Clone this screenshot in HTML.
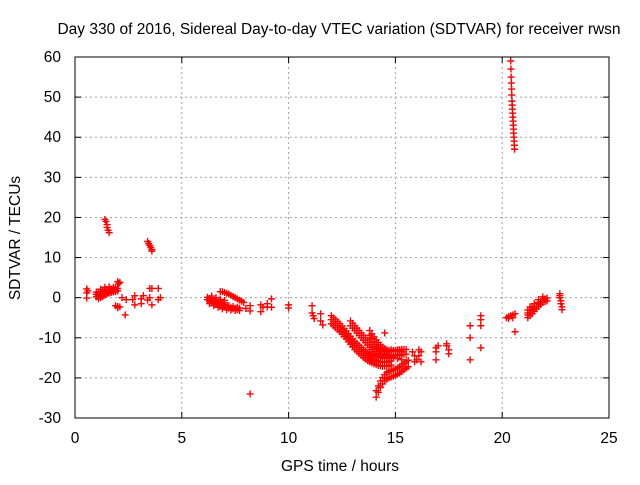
<!DOCTYPE html>
<html><head><meta charset="utf-8"><style>
body{margin:0;background:#fff}
svg text{font-family:"Liberation Sans",sans-serif;font-size:15.5px;fill:#000}
</style></head><body>
<svg id="chart" width="640" height="480">
<text x="339" y="34" text-anchor="middle" font-size="15.5">Day 330 of 2016, Sidereal Day-to-day VTEC variation (SDTVAR) for receiver rwsn</text>
<text x="340" y="471" text-anchor="middle">GPS time / hours</text>
<text transform="translate(20,238) rotate(-90)" text-anchor="middle">SDTVAR / TECUs</text>
<g id="grid"></g><g id="axes"></g><g id="marks"></g>
<rect x="75" y="57" width="534" height="361" fill="none" stroke="#000"/>
</svg>
<script>
const xTicks=[0,5,10,15,20,25];
const yTicks=[-30,-20,-10,0,10,20,30,40,50,60];
const t1H=[0.55,0.55,0.55,0.6], t1V=[2.2,1.2,-0.1,1.7];
const blob1H=[1.0,1.1,1.2,1.3,1.4,1.5,1.6,1.7,1.8,1.9,2.0,1.1,1.2,1.3,1.4,1.5,1.6,1.7,1.8,1.9,1.0,1.2,1.4,1.6,1.8];
const blob1V=[0.2,0.5,0.8,1,1.2,1.4,1.5,1.6,1.7,1.8,1.7,-0.3,0,0.3,0.6,0.9,1.1,1.3,1.4,1.5,0.8,1.5,2,2.1,2];
const t3H=[1.4,1.45,1.5,1.5,1.55,1.6], t3V=[19.5,19,18.2,17.5,16.8,16.2];
const t4H=[3.4,3.45,3.5,3.55,3.6,3.6], t4V=[14,13.5,13,12.5,12,11.6];
const t5H=[2.0,2.1,2.05], t5V=[4,3.8,3.5];
const t6H=[1.9,2.0,2.1,2.0], t6V=[-2,-2.2,-2.3,-2.5];
const t8H=[2.35,2.4,2.7,2.8,2.8,3.1,3.1,3.2,3.4,3.5,3.5,3.6,3.6,3.9,4.0,3.9,2.2];
const t8V=[-4.3,-0.5,-0.5,-1.8,0.5,-0.3,-1.5,0.5,-0.6,2.3,0,-1.8,2.3,-0.5,0,2.3,0];
const blob9H=[6.2,6.3,6.4,6.5,6.6,6.7,6.8,6.9,7.0,7.2,7.4,7.6,6.3,6.5,6.7,6.9,7.1,7.3,7.5,7.7,6.4,6.6,6.8,7.0];
const blob9V=[-0.5,-0.8,-1.2,-1.4,-1.6,-1.8,-2,-2.2,-2.4,-2.6,-2.8,-3,-1.5,-2,-2.4,-2.8,-3,-3.1,-3.2,-3.2,-0.2,-0.6,-1,-1.3];
const arc10H=[6.8,6.9,7.0,7.1,7.2,7.3,7.4,7.5,7.6,7.7,7.8,7.9], arc10V=[1.5,1.5,1.3,1.1,0.9,0.6,0.3,0,-0.3,-0.6,-0.9,-1.2];
const t11H=[8.0,8.2,8.2,8.7,8.7,8.8,9.0,9.2,9.2,9.0,10.0,10.0,8.2], t11V=[-2.7,-2,-3.3,-1.8,-3.5,-2.4,-2.3,-0.3,-2.4,-1.5,-1.8,-2.6,-24];
const t14H=[11.1,11.1,11.15,11.2,11.5,11.5,11.6,14.5], t14V=[-2,-3.8,-4.5,-5.2,-4,-5.8,-6.8,-8.8];
const arc15H=[12.0,12.1,12.2,12.3,12.4,12.5,12.6,12.7,12.8,12.9,13.0,13.1,13.2,13.3,13.4,13.5,13.6,13.7,13.8,13.9,14.0,14.1,14.2,14.3,14.4,14.5,14.6,14.7,14.8];
const arc15V=[-5.5,-6,-6.5,-7,-7.5,-8.1,-8.7,-9.3,-10,-10.6,-11.3,-11.9,-12.4,-12.9,-13.4,-13.9,-14.3,-14.7,-15,-15.3,-15.5,-15.7,-15.9,-16,-16.1,-16.1,-16.1,-16,-15.8];
const arc16H=[12.9,13.0,13.1,13.2,13.3,13.4,13.5,13.6,13.7,13.8,13.9,14.0,14.1,14.2,14.3,14.4,14.5,14.6,14.7];
const arc16V=[-6.4,-7,-7.6,-8.2,-8.8,-9.4,-10,-10.6,-11.2,-11.8,-12.3,-12.8,-13.2,-13.5,-13.8,-14,-14.1,-14.1,-14];
const arc17H=[13.8,13.9,14.0,14.1,14.2,14.3,14.4,14.5,14.6,14.7,14.8,14.9,15.0,15.1,15.2,15.3,15.4,15.5];
const arc17V=[-8.8,-9.6,-10.4,-11.1,-11.8,-12.4,-12.9,-13.3,-13.6,-13.8,-13.9,-13.9,-13.8,-13.7,-13.6,-13.5,-13.5,-13.5];
const arc18H=[14.1,14.2,14.3,14.4,14.5,14.6,14.7,14.8,14.9,15.0,15.1,15.2,15.3,15.4,15.5,15.6];
const arc18V=[-24,-22.8,-21.6,-20.7,-20,-19.5,-19.2,-19,-18.8,-18.6,-18.3,-18,-17.6,-17.2,-16.8,-16.4];
const blob15H=[14.8,14.9,15.0,15.1,15.2,15.3,14.9,15.1,15.3,15.0,15.2], blob15V=[-13,-13.2,-13.1,-13,-13.2,-13.5,-15,-15.2,-15.5,-14.3,-14.4];
const t20H=[15.8,15.9,16.0,16.1,16.1,16.2,15.9,16.2,16.9,16.9,16.9,17.0,17.4,17.5,17.5,17.4];
const t20V=[-13.5,-14.5,-15.5,-13,-14.5,-13.5,-16,-16,-12.5,-13.5,-15.5,-12,-12,-13,-14,-11.5];
const t22H=[18.5,18.5,18.5,19.0,19.0,19.0,19.0,20.6], t22V=[-7,-10,-15.5,-4.5,-5.5,-7,-12.5,-8.5];
const blob23H=[20.2,20.3,20.4,20.5,20.6,20.3,20.5], blob23V=[-5,-4.7,-4.5,-4.3,-4,-5.2,-5];
const vert25H=[20.4,20.41,20.42,20.43,20.44,20.45,20.46,20.47,20.48,20.49,20.5,20.51,20.52,20.53,20.54,20.55,20.56,20.57,20.58];
const vert25V=[59,57,55,53.5,52,50.5,49,48,47,46,45,44,43,42,41,40,39,38,37];
const blob26H=[21.2,21.3,21.4,21.5,21.6,21.7,21.8,21.9,22.0,22.1,21.3,21.5,21.7,21.9,21.2,21.4];
const blob26V=[-5,-4.5,-4,-3.4,-2.8,-2.2,-1.7,-1.2,-1,-0.8,-3,-2.2,-1.2,-0.5,-3.8,-3];
const t27H=[22.7,22.7,22.75,22.75,22.8,22.8,22.7], t27V=[1,0,-0.8,-1.5,-2.3,-3,0.5];

const X=h=>75+h*(534/25), Y=v=>418-(v+30)*(361/90);
const NS='http://www.w3.org/2000/svg';
const grid=document.getElementById('grid'), axes=document.getElementById('axes'), marks=document.getElementById('marks');
function mk(tag,attrs,parent){const e=document.createElementNS(NS,tag);for(const k in attrs)e.setAttribute(k,attrs[k]);parent.appendChild(e);return e;}
xTicks.forEach(t=>{
  const x=X(t);
  if(t>0&&t<25){const g=mk('line',{x1:x,x2:x,y1:57,y2:418,stroke:'#a0a0a0','stroke-dasharray':'2,3'},grid);
  
  }
  mk('line',{x1:x,x2:x,y1:418,y2:412,stroke:'#000'},axes);
  mk('line',{x1:x,x2:x,y1:57,y2:63,stroke:'#000'},axes);
  const l=mk('text',{x:x,y:443,'text-anchor':'middle'},axes);l.textContent=t;
  
  
});
yTicks.forEach(t=>{
  const y=Y(t);
  if(t>-30&&t<60){const g=mk('line',{x1:75,x2:609,y1:y,y2:y,stroke:'#a0a0a0','stroke-dasharray':'2,3'},grid);
  
  }
  mk('line',{x1:75,x2:81,y1:y,y2:y,stroke:'#000'},axes);
  mk('line',{x1:609,x2:603,y1:y,y2:y,stroke:'#000'},axes);
  const l=mk('text',{x:61,y:y+5,'text-anchor':'end'},axes);l.textContent=t;
  
  
});
function plot(H,V,name,offs){
  offs=offs||[0];
  H.forEach((h,i)=>offs.forEach(o=>{
    const x=X(h),y=Y(V[i]+o);
    const p=mk('path',{d:`M${x-3.5},${y}h7M${x},${y-3.5}v7`,stroke:'#f00','stroke-width':1.4},marks);
    
    
  }));
}
plot(t1H,t1V,'track1');plot(blob1H,blob1V,'blob1',[0,0.6]);plot(t3H,t3V,'track3');plot(t4H,t4V,'track4');
plot(t5H,t5V,'track5');plot(t6H,t6V,'track6');plot(t8H,t8V,'track8');plot(blob9H,blob9V,'blob9',[0,0.6]);
plot(arc10H,arc10V,'arc10');plot(t11H,t11V,'track11');plot(t14H,t14V,'track14');
plot(arc15H,arc15V,'arc15',[-1,0,1]);plot(arc16H,arc16V,'arc16',[-0.6,0.6]);plot(arc17H,arc17V,'arc17',[-0.6,0.6]);
plot(arc18H,arc18V,'arc18',[-0.8,0.8]);plot(blob15H,blob15V,'blob15');plot(t20H,t20V,'track20');plot(t22H,t22V,'track22');
plot(blob23H,blob23V,'blob23');plot(vert25H,vert25V,'vertical25');plot(blob26H,blob26V,'blob26',[0,0.7]);plot(t27H,t27V,'track27');
</script>
</body></html>
